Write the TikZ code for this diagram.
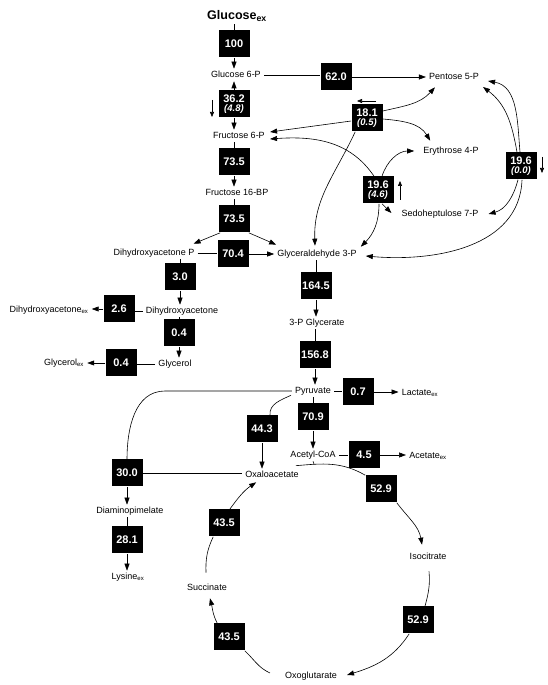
\documentclass[tikz,border=0pt]{standalone}
\usepackage{fontspec}
\setmainfont{Liberation Sans}
\usetikzlibrary{arrows.meta,calc}
\newcommand{\twol}[2]{#1\\[-1.5pt]{\fontsize{9.5}{10}\selectfont\itshape #2}}
\begin{document}
\begin{tikzpicture}[x=1pt,y=1pt,line width=0.6pt,
  met/.style={font=\fontsize{9}{10}\selectfont, text height=7pt, text depth=2pt, inner xsep=3pt, inner ysep=1.5pt},
  flux/.style={fill=black, text=white, font=\fontsize{11}{11}\selectfont\bfseries, minimum width=31pt, minimum height=27pt, inner sep=1pt, align=center},
  arr/.style={-{Triangle[length=7pt,width=5pt]}},
  arrs/.style={-{Triangle[length=5pt,width=4pt]}}]
\useasboundingbox (0,0) rectangle (548,685);
% nodes
\node[font=\fontsize{12.5}{13}\selectfont\bfseries, text height=9pt, text depth=3pt, inner sep=1pt] (glcex) at (237,668) {Glucose\textsubscript{ex}};
\node[flux] (b100) at (234,641) {100};
\node[met] (g6p) at (236,610) {Glucose 6-P};
\node[flux] (b620) at (336,608) {62.0};
\node[met] (p5p) at (454,608) {Pentose 5-P};
\node[flux] (b362) at (234,581) {\twol{36.2}{(4.8)}};
\node[met] (f6p) at (239,549) {Fructose 6-P};
\node[flux] (b735a) at (234,523) {73.5};
\node[met] (f16bp) at (237,492) {Fructose 16-BP};
\node[flux] (b735b) at (234,466) {73.5};
\node[met] (dhap) at (154,432) {Dihydroxyacetone P};
\node[flux] (b704) at (233,431) {70.4};
\node[met] (gap) at (317,431) {Glyceraldehyde 3-P};
\node[flux] (b1645) at (316,399) {164.5};
\node[met] (pg3) at (317,362) {3-P Glycerate};
\node[flux] (b1568) at (315,330) {156.8};
\node[met] (pyr) at (313,294) {Pyruvate};
\node[flux] (b07) at (358,293) {0.7};
\node[met] (lac) at (420,292) {Lactate\textsubscript{ex}};
\node[flux] (b709) at (313,268) {70.9};
\node[met] (acoa) at (313,230) {Acetyl-CoA};
\node[flux] (b45) at (364,230) {4.5};
\node[met] (acex) at (428,229) {Acetate\textsubscript{ex}};
\node[flux] (b443) at (262,256) {44.3};
\node[met] (oaa) at (272,210) {Oxaloacetate};
\node[flux] (b300) at (127,212) {30.0};
\node[met] (dap) at (130,174) {Diaminopimelate};
\node[flux] (b281) at (127,145) {28.1};
\node[met] (lysex) at (128,108) {Lysine\textsubscript{ex}};
\node[flux] (b529a) at (381,196) {52.9};
\node[met] (icit) at (428,128) {Isocitrate};
\node[flux] (b529b) at (418,65) {52.9};
\node[met] (oxg) at (311,9) {Oxoglutarate};
\node[flux] (b435b) at (229,48) {43.5};
\node[met] (succ) at (207,97) {Succinate};
\node[flux] (b435a) at (224,162) {43.5};
\node[flux] (b30) at (180,408) {3.0};
\node[met] (dha) at (182,374) {Dihydroxyacetone};
\node[flux] (b26) at (119,376) {2.6};
\node[met] (dhaex) at (49,375) {Dihydroxyacetone\textsubscript{ex}};
\node[flux] (b04a) at (179,352) {0.4};
\node[met] (glyc) at (175,321) {Glycerol};
\node[flux] (b04b) at (121,322) {0.4};
\node[met] (glycex) at (64,322) {Glycerol\textsubscript{ex}};
\node[flux] (b181) at (367,567) {\twol{18.1}{(0.5)}};
\node[met] (e4p) at (451,534) {Erythrose 4-P};
\node[met] (s7p) at (440,471) {Sedoheptulose 7-P};
\node[flux] (b196a) at (378,495) {\twol{19.6}{(4.6)}};
\node[flux] (b196b) at (521,519) {\twol{19.6}{(0.0)}};
% direction indicators
\coordinate (i1s) at (212,585); \coordinate (i1e) at (212,568);
\coordinate (i2s) at (376,584); \coordinate (i2e) at (357,584);
\coordinate (i3s) at (400,485); \coordinate (i3e) at (400,504);
\coordinate (i4s) at (542,528); \coordinate (i4e) at (542,512);
\draw[arrs] (i1s) -- (i1e);
\draw[arrs] (i2s) -- (i2e);
\draw[arrs] (i3s) -- (i3e);
\draw[arrs] (i4s) -- (i4e);
% main column
\draw (glcex.south -| b100.north) -- (b100.north);
\draw[arr] (b100.south) -- (b100.south |- g6p.north);
\draw (g6p.east) -- (b620.west |- g6p.east);
\draw[arr] (b620.east) -- (p5p.west);
\draw[arr] (b362.north) -- (b362.north |- g6p.south);
\draw[arr] (b362.south) -- (b362.south |- f6p.north);
\draw (b735a.north |- f6p.south) -- (b735a.north);
\draw[arr] (b735a.south) -- (b735a.south |- f16bp.north);
\draw (b735b.north |- f16bp.south) -- (b735b.north);
\draw[arr] ($(b735b.south west)+(2,0)$) -- ($(dhap.north east)+(-4,3)$);
\draw[arr] ($(b735b.south east)+(-1,0)$) -- ($(gap.north west)+(2,3)$);
\draw (dhap.east) -- (dhap.east -| b704.west);
\draw[arr] (b704.east) -- (b704.east -| gap.west);
\draw (b1645.north |- gap.south) -- (b1645.north);
\draw[arr] (b1645.south) -- (b1645.south |- pg3.north);
\draw (b1568.north |- pg3.south) -- (b1568.north);
\draw[arr] (b1568.south) -- (b1568.south |- pyr.north);
\draw (pyr.east) -- (pyr.east -| b07.west);
\draw[arr] (b07.east) -- (b07.east -| lac.west);
\draw (b709.north |- pyr.south) -- (b709.north);
\draw[arr] (b709.south) -- (b709.south |- acoa.north);
\draw (acoa.east) -- (acoa.east -| b45.west);
\draw[arr] (b45.east) -- (b45.east -| acex.west);
\draw (pyr.west) -- ($(b300.north |- pyr.west)+(38,0)$) to[out=180,in=90] (b300.north);
\draw ($(pyr.south west)+(-1,2)$) to[out=205,in=95] ($(b443.north)+(8,0)$);
\draw[arr] (b443.south) -- (b443.south |- oaa.north);
\draw (b300.east) -- (b300.east -| oaa.west);
\draw[arr] (b300.south) -- (b300.south |- dap.north);
\draw (b281.north |- dap.south) -- (b281.north);
\draw[arr] (b281.south) -- (b281.south |- lysex.north);
% dihydroxyacetone branch
\draw (b30.north |- dhap.south) -- (b30.north);
\draw[arr] (b30.south) -- (b30.south |- dha.north);
\draw (dha.west) -- (dha.west -| b26.east);
\draw[arr] (b26.west) -- (b26.west -| dhaex.east);
\draw (b04a.north |- dha.south) -- (b04a.north);
\draw[arr] (b04a.south) -- (b04a.south |- glyc.north);
\draw (glyc.west) -- (glyc.west -| b04b.east);
\draw[arr] (b04b.west) -- (b04b.west -| glycex.east);
% pentose phosphate
\draw[arr] ($(b181.west)+(0,-3)$) -- ($(f6p.east)+(2,4)$);
\draw[arr] ($(b181.east)+(0,7)$) to[out=13,in=228] ($(p5p.south west)+(9,-4)$);
\draw[arr] ($(b181.east)+(0,-1)$) to[out=-5,in=121] ($(e4p.north west)+(10,4)$);
\draw[arr] ($(b181.south west)+(4,0)$) to[out=-115,in=92] ($(gap.north)+(-2,2)$);
\draw[arr] ($(b196a.north)+(-4,0)$) to[out=124,in=4] ($(f6p.east)+(2,-3)$);
\draw[arr] ($(b196a.north)+(4,0)$) to[out=72,in=180] ($(e4p.west)+(-6,0)$);
\draw[arr] ($(b196a.south)+(4,0)$) -- ($(s7p.west)+(-7,1)$);
\draw[arr] ($(b196a.south)+(1,0)$) to[out=-90,in=45] ($(gap.north east)+(1,1)$);
\draw[arr] ($(b196b.north)+(-1,0)$) to[out=95,in=-10] ($(p5p.east)+(6,-4)$);
\draw[arr] ($(b196b.north)+(-4,0)$) to[out=100,in=-37] ($(p5p.east)+(1,-10)$);
\draw[arr] ($(b196b.south)+(-3,0)$) to[out=-105,in=15] ($(s7p.east)+(7,0)$);
\draw[arr] ($(b196b.south)+(1,0)$) to[out=-92,in=-5] ($(gap.east)+(6,-2)$);
% TCA cycle
\draw ($(oaa.north east)+(-6,3)$) to[out=5,in=150] (b529a.north west);
\draw (acoa.south) -- ++(1,-3);
\draw[arr] (b529a.south east) to[out=-53,in=100] ($(icit.north)+(-6,6)$);
\draw ($(icit.south)+(1,-8)$) to[out=-85,in=75] ($(b529b.north)+(7,0)$);
\draw[arr] ($(b529b.south west)+(7,0)$) to[out=-123,in=17] ($(oxg.east)+(7,1)$);
\draw ($(oxg.west)+(-12,3)$) to[out=155,in=-43] (b435b.south east);
\draw[arr] ($(b435b.north west)+(4,0)$) to[out=117,in=-76] ($(succ.south)+(3,-4)$);
\draw ($(succ.north)+(-1,9)$) to[out=92,in=-115] ($(b435a.south west)+(5,0)$);
\draw[arr] ($(b435a.north east)+(-10,0)$) to[out=54,in=-146] ($(oaa.south west)+(14,-1)$);
\end{tikzpicture}
\end{document}
